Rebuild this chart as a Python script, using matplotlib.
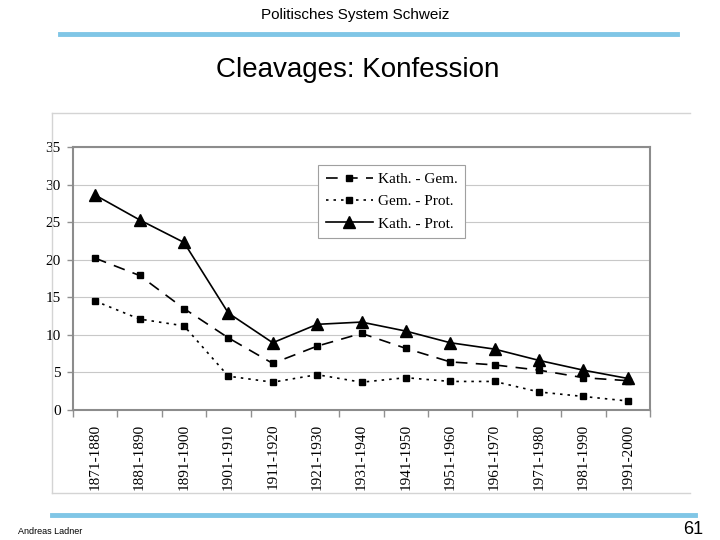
import numpy as np
import matplotlib.pyplot as plt
from matplotlib.lines import Line2D

# data
periods = ['1871-1880', '1881-1890', '1891-1900', '1901-1910', '1911-1920',
           '1921-1930', '1931-1940', '1941-1950', '1951-1960', '1961-1970',
           '1971-1980', '1981-1990', '1991-2000']
kath_gem = [20.2, 17.9, 13.5, 9.6, 6.2, 8.5, 10.2, 8.2, 6.4, 6.0, 5.3, 4.3, 3.9]
gem_prot = [14.5, 12.1, 11.2, 4.5, 3.7, 4.7, 3.7, 4.3, 3.8, 3.8, 2.4, 1.8, 1.2]
kath_prot = [28.6, 25.3, 22.3, 12.9, 8.95, 11.4, 11.7, 10.5, 8.95, 8.1, 6.6, 5.3, 4.2]
yticks = [0, 5, 10, 15, 20, 25, 30, 35]

W, H = 720, 540
fig = plt.figure(figsize=(7.2, 5.4), dpi=100)
serif = ['Liberation Serif', 'DejaVu Serif']
sans = ['Liberation Sans', 'DejaVu Sans']

def fx(px):
    return px / W

def fy(py):
    return 1 - py / H

# slide header
fig.text(0.494, fy(15), 'Politisches System Schweiz', ha='center', va='center',
         fontsize=11, family=sans)
fig.add_artist(Line2D([fx(60), fx(677)], [fy(34), fy(34)], color='#80C6E6', lw=3.5))
fig.text(0.497, fy(70), 'Cleavages: Konfession', ha='center', va='center',
         fontsize=20, family=sans)

# chart picture frame
fc = '#d4d4d4'
fig.add_artist(Line2D([fx(52), fx(690)], [fy(113), fy(113)], color=fc, lw=1))
fig.add_artist(Line2D([fx(52), fx(52)], [fy(113), fy(493)], color=fc, lw=1))
fig.add_artist(Line2D([fx(52), fx(690)], [fy(493), fy(493)], color=fc, lw=1))

# slide footer
fig.add_artist(Line2D([fx(52), fx(695)], [fy(515), fy(515)], color='#80C6E6', lw=3.5))
fig.text(fx(18), fy(532), 'Andreas Ladner', ha='left', va='center',
         fontsize=6.5, family=['Liberation Sans Narrow'] + sans)
fig.text(fx(703), fy(529), '61', ha='right', va='center',
         fontsize=13, family=['Liberation Sans Narrow'] + sans)

ax = fig.add_axes([fx(73), fy(410), fx(650) - fx(73), fy(147) - fy(410)])
x = np.arange(len(periods))
ax.plot(x, kath_gem, color='black', lw=1.2, ls=(0, (7, 5)), marker='s', ms=5,
        label='Kath. - Gem.')
ax.plot(x, gem_prot, color='black', lw=1.2, ls=(0, (1.5, 3)), marker='s', ms=5,
        label='Gem. - Prot.')
ax.plot(x, kath_prot, color='black', lw=1.2, ls='-', marker='^', ms=8,
        label='Kath. - Prot.')

ax.set_xlim(-0.5, len(periods) - 0.5)
ax.set_ylim(0, 35)
ax.set_yticks(yticks)
ax.set_yticklabels([str(v) for v in yticks], family=serif, fontsize=11)
ax.set_xticks(x)
ax.set_xticklabels(periods, rotation=90, family=serif, fontsize=11)
ax.set_xticks(np.arange(len(periods) + 1) - 0.5, minor=True)
ax.tick_params(axis='x', which='major', length=0, pad=10)
ax.tick_params(axis='x', which='minor', length=5, color='#909090', width=1)
ax.tick_params(axis='y', length=4, color='#909090', width=1, pad=5)
ax.grid(axis='y', color='#c8c8c8', lw=0.8)
ax.set_axisbelow(True)
for s in ax.spines.values():
    s.set_color('#8c8c8c')
    s.set_linewidth(1.5)

leg = ax.legend(loc='upper left', bbox_to_anchor=(fx(318 - 73) / (fx(650) - fx(73)), 1 - 18 / 263),
                prop={'family': serif, 'size': 11}, handlelength=3.1, handletextpad=0.3,
                borderpad=0.5, labelspacing=0.55, fancybox=False, framealpha=1,
                borderaxespad=0)
leg.get_frame().set_edgecolor('#a0a0a0')
leg.get_frame().set_linewidth(0.8)

fig.savefig('out.png', dpi=100)
